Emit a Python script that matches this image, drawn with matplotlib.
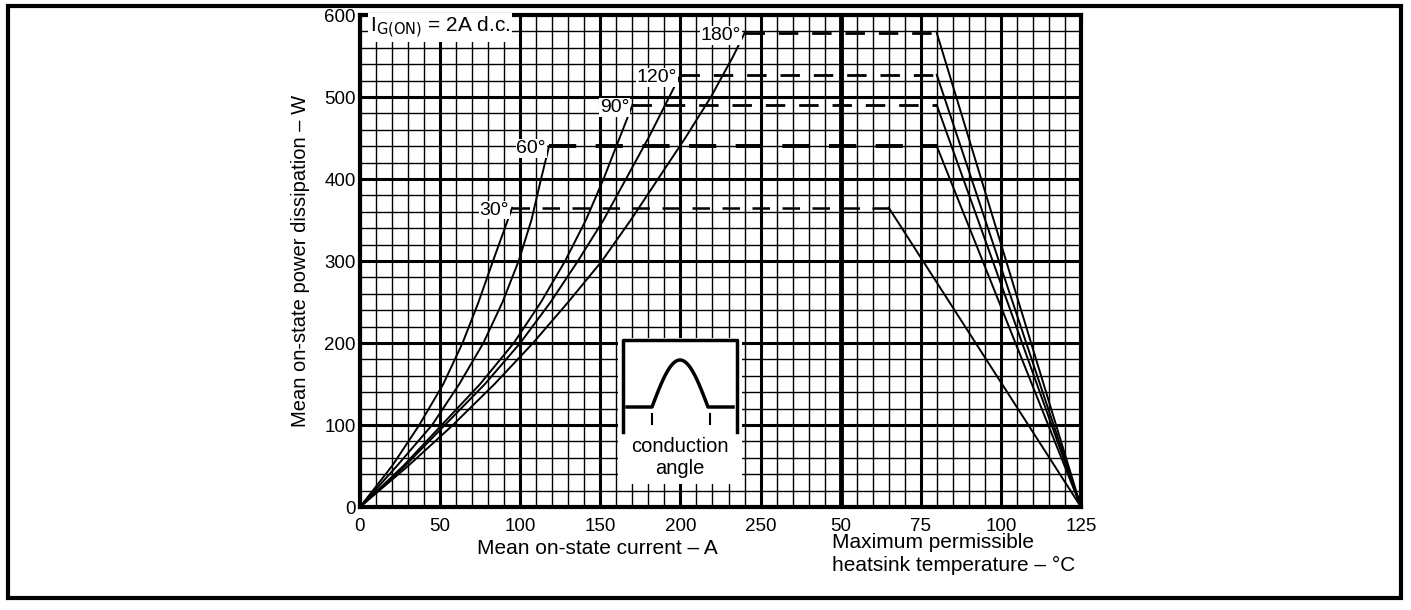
import numpy as np
import matplotlib
matplotlib.use("Agg")
import matplotlib.pyplot as plt
from matplotlib.patches import Rectangle

plt.rcParams['font.family'] = ['Liberation Sans', 'DejaVu Sans']

# Kurvendaten: Verlustleistung (W) ueber mittleren Strom (A) je Stromflusswinkel
angles = ["30°", "60°", "90°", "120°", "180°"]
current = {
    "30°": [0, 20, 37, 52, 64, 74, 83, 95],
    "60°": [0, 23, 45, 62, 77, 89, 99, 107, 113, 118],
    "90°": [0, 27, 51, 75, 96, 113, 128, 141, 152, 162, 170],
    "120°": [0, 28, 53, 78, 100, 119, 136, 152, 166, 180, 193, 200],
    "180°": [0, 30, 58, 84, 108, 130, 151, 169, 186, 203, 219, 233, 240],
}
power = {
    "30°": [0, 50, 100, 150, 200, 250, 300, 365],
    "60°": [0, 50, 100, 150, 200, 250, 300, 350, 400, 440],
    "90°": [0, 50, 100, 150, 200, 250, 300, 350, 400, 450, 490],
    "120°": [0, 50, 100, 150, 200, 250, 300, 350, 400, 450, 500, 527],
    "180°": [0, 50, 100, 150, 200, 250, 300, 350, 400, 450, 500, 550, 578],
}
# Kuehlkoerpertemperatur (degC) am Knick und bei P = 0
t_knee = {"30°": 65, "60°": 80, "90°": 80, "120°": 80, "180°": 80}
dash_lw = {"30°": 1.8, "60°": 2.8, "90°": 2.0, "120°": 2.0, "180°": 2.0}
t_max = 125

x_ticks_current = [0, 50, 100, 150, 200, 250]
x_ticks_temp = [50, 75, 100, 125]
y_ticks = [0, 100, 200, 300, 400, 500, 600]


# Temperaturachse auf gemeinsame x-Skala legen (50 degC -> 300)
def t2x(t):
    return 300 + (t - 50) * 2


fig = plt.figure(figsize=(14.11, 6.10), dpi=100)
W, H = 1411, 610
ax = fig.add_axes([360 / W, (H - 507) / H, (1081 - 360) / W, (507 - 15) / H])
ax.set_xlim(0, t2x(t_max))
ax.set_ylim(0, 600)

# Rasterpapier
for xv in np.arange(0, t2x(t_max) + 1, 10):
    ax.axvline(xv, color='black', lw=2.2 if xv % 50 == 0 else 1.0, zorder=1)
for yv in np.arange(0, 601, 20):
    ax.axhline(yv, color='black', lw=2.2 if yv % 100 == 0 else 1.0, zorder=1)
ax.axvline(300, color='black', lw=3.5, zorder=1)
for s in ax.spines.values():
    s.set_linewidth(3)

xt = x_ticks_current + [t2x(t) for t in x_ticks_temp]
xl = [str(v) for v in x_ticks_current] + [str(v) for v in x_ticks_temp]
ax.set_xticks(xt)
ax.set_xticklabels(xl)
ax.set_yticks(y_ticks)
ax.tick_params(which='both', length=0, labelsize=13.5, pad=8)
ax.tick_params(axis='y', pad=3)

# Kurven
for a in angles:
    ax.plot(current[a], power[a], color='black', lw=1.4, zorder=3)
    p_end = power[a][-1]
    x_end = current[a][-1]
    ax.plot([x_end, t2x(t_knee[a])], [p_end, p_end], color='black', lw=dash_lw[a],
            dashes=(7, 5), zorder=3)
    ax.plot([t2x(t_knee[a]), t2x(t_max)], [p_end, 0], color='black', lw=1.4, zorder=3)
    ax.text(x_end - 2, p_end - 3, a, ha='right', va='center', fontsize=14, zorder=4,
            bbox=dict(facecolor='white', edgecolor='none', pad=0.5))

ax.text(6, 585, r"I$_{\mathrm{G(ON)}}$ = 2A d.c.", fontsize=15, va='center', ha='left',
        zorder=4, bbox=dict(facecolor='white', edgecolor='none', pad=1))

ax.set_ylabel("Mean on-state power dissipation – W", fontsize=14.5, labelpad=10)
fig.text(597 / W, 1 - 548 / H, "Mean on-state current – A", fontsize=15,
         ha='center', va='center')
fig.text(832 / W, 1 - 554 / H, "Maximum permissible\nheatsink temperature – °C",
         fontsize=15, ha='left', va='center', linespacing=1.3)

# Einsatzbild: Stromflusswinkel
ins = fig.add_axes([618 / W, (H - 484) / H, (742 - 618) / W, (484 - 338) / H])
ins.set_xlim(618, 742)
ins.set_ylim(484, 338)
ins.axis('off')
ins.add_patch(Rectangle((618, 338), 124, 146, facecolor='white', edgecolor='none'))
ins.plot([623, 623, 737, 737], [432, 340, 340, 432], color='black', lw=2.5)
t = np.linspace(0, 1, 60)
wx = np.concatenate([[627], 652 + t * 56, [733]])
wy = np.concatenate([[407], 407 - 47 * np.sin(np.pi * t), [407]])
ins.plot(wx, wy, color='black', lw=2.5)
ins.plot([652, 652], [414, 424], color='black', lw=1.5)
ins.plot([710, 710], [414, 424], color='black', lw=1.5)
ins.text(680, 447, "conduction", ha='center', va='center', fontsize=14.5)
ins.text(680, 469, "angle", ha='center', va='center', fontsize=14.5)

# Aussenrahmen
fig.add_artist(Rectangle((8 / W, (H - 598) / H), (1401 - 8) / W, (598 - 6) / H,
                         transform=fig.transFigure, fill=False, edgecolor='black', lw=3))

fig.savefig("out.png", dpi=100)
